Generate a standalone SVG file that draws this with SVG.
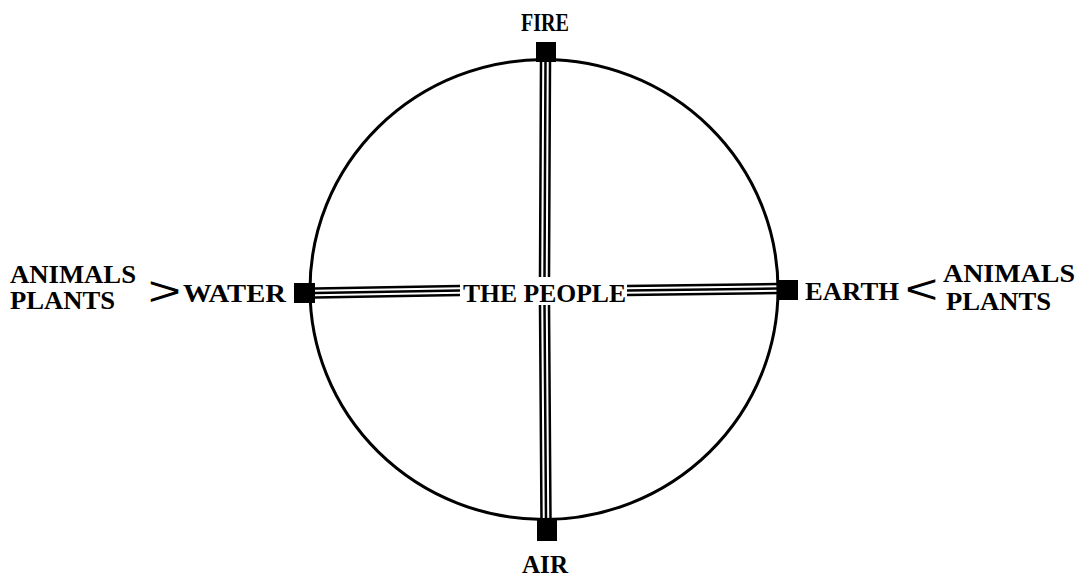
<svg xmlns="http://www.w3.org/2000/svg" width="1081" height="577" viewBox="0 0 1081 577">
<style>
.t{font-family:"Liberation Serif",serif;font-weight:bold;font-size:25px;fill:#000}
.c{font-family:"Liberation Sans",sans-serif;font-weight:normal;font-size:40px;fill:#000}
.ln{stroke:#000;stroke-width:2.5;fill:none}
.sq{fill:#000}
</style>
<rect width="1081" height="577" fill="#fff"/>
<g id="circle"><ellipse cx="544" cy="289.5" rx="234" ry="230" fill="none" stroke="#000" stroke-width="3"/></g>
<g id="connectors">
<path class="ln" d="M541,62 L540,277 M545.5,62 L544.5,277 M550,62 L549,277"/>
<path class="ln" d="M540,305 L541.5,520 M544.5,305 L546,520 M549,305 L550.5,520"/>
<path class="ln" d="M315,288.5 L460,286 M315,293 L460,290.5 M315,297.5 L460,295"/>
<path class="ln" d="M627,286 L778,284 M627,290.5 L778,288.5 M627,295 L778,293"/>
</g>
<g id="fire"><rect class="sq" x="536" y="42" width="20" height="20"/><text class="t" x="545" y="31" text-anchor="middle" textLength="48" lengthAdjust="spacingAndGlyphs">FIRE</text></g>
<g id="air"><rect class="sq" x="537" y="520" width="20" height="21"/><text class="t" x="545" y="573" text-anchor="middle" textLength="46" lengthAdjust="spacingAndGlyphs">AIR</text></g>
<g id="water"><rect class="sq" x="294" y="283" width="21" height="20"/><text class="t" x="183" y="302" textLength="103" lengthAdjust="spacingAndGlyphs">WATER</text></g>
<g id="earth"><rect class="sq" x="777" y="280" width="21" height="20"/><text class="t" x="805" y="300" textLength="94" lengthAdjust="spacingAndGlyphs">EARTH</text></g>
<g id="people"><text class="t" x="463" y="302" textLength="163" lengthAdjust="spacingAndGlyphs">THE PEOPLE</text></g>
<g id="left-source">
<text class="t" x="10" y="283" textLength="126" lengthAdjust="spacingAndGlyphs">ANIMALS</text>
<text class="t" x="10" y="309" textLength="105" lengthAdjust="spacingAndGlyphs">PLANTS</text>
<text class="c" x="148" y="305" textLength="33" lengthAdjust="spacingAndGlyphs">&gt;</text>
</g>
<g id="right-source">
<text class="t" x="943" y="282" textLength="132" lengthAdjust="spacingAndGlyphs">ANIMALS</text>
<text class="t" x="946" y="310" textLength="105" lengthAdjust="spacingAndGlyphs">PLANTS</text>
<text class="c" x="905" y="303" textLength="33" lengthAdjust="spacingAndGlyphs">&lt;</text>
</g>
</svg>
